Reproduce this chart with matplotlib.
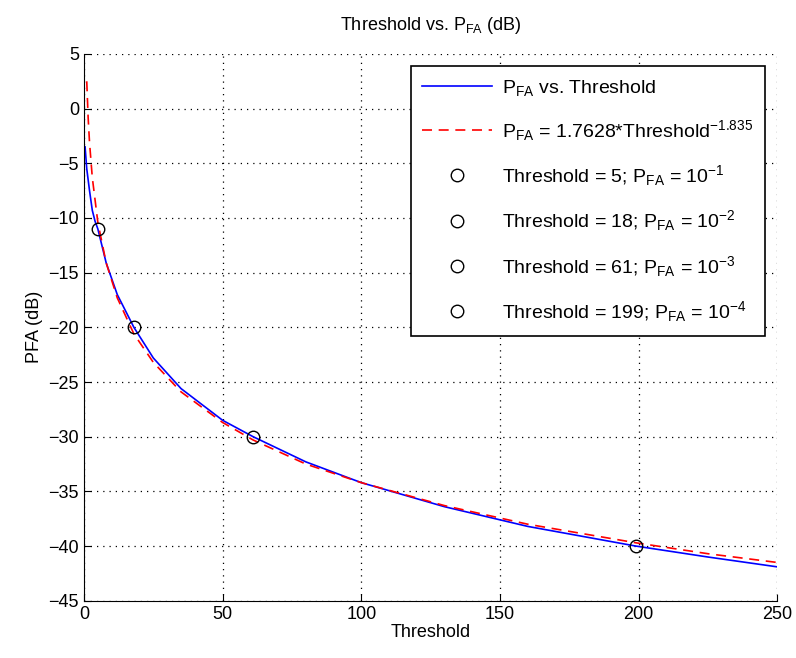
import matplotlib.pyplot as plt

plt.rcParams['font.family'] = ['Liberation Sans', 'DejaVu Sans']
plt.rcParams['mathtext.default'] = 'regular'

thr_meas = [0.4, 1, 2, 3, 4, 5, 8, 12, 18, 25, 35, 50, 61, 80, 100, 130, 160, 199, 225, 250]
pfa_meas = [-3.5, -5.5, -7.5, -9.3, -10.3, -11.0, -14.1, -17.0, -20.0, -22.8, -25.6,
            -28.5, -30.0, -32.3, -34.2, -36.4, -38.2, -40.0, -41.0, -41.9]

# Power-law fit curve
thr_fit = [1, 1.5, 2, 3, 5, 8, 12, 18, 25, 35, 50, 61, 80, 100, 130, 160, 199, 225, 250]
pfa_fit = [2.5, -0.8, -3.1, -6.3, -10.4, -14.1, -17.3, -20.6, -23.2, -25.9, -28.7,
           -30.3, -32.5, -34.2, -36.3, -38.0, -39.7, -40.7, -41.5]

# Marked points
mark_thr = [5, 18, 61, 199]
mark_pfa = [-11, -20, -30, -40]
mark_exp = [-1, -2, -3, -4]

fig = plt.figure(figsize=(7.96, 6.58), dpi=100)
ax = fig.add_axes([0.1055, 0.087, 0.871, 0.831])

ax.plot(thr_meas, pfa_meas, color='blue', lw=1.2, label='P$_{FA}$ vs. Threshold')
ax.plot(thr_fit, pfa_fit, color='red', lw=1.2, ls=(0, (6, 4)),
        label='P$_{FA}$ = 1.7628*Threshold$^{-1.835}$')
for t, p, e in zip(mark_thr, mark_pfa, mark_exp):
    ax.plot(t, p, 'o', mfc='none', mec='black', ms=9, mew=1.0,
            label='Threshold = %d; P$_{FA}$ = 10$^{%d}$' % (t, e))

ax.set_xlim(0, 250)
ax.set_ylim(-45, 5)
ax.set_xticks(range(0, 251, 50))
ax.set_yticks(range(-45, 6, 5))
ax.grid(True, color='black', ls=(0, (1, 4)), lw=0.9)
ax.spines['top'].set_visible(False)
ax.spines['right'].set_visible(False)
ax.tick_params(direction='in', labelsize=13, length=5)

ax.set_xlabel('Threshold', fontsize=13, labelpad=1)
ax.set_ylabel('PFA (dB)', fontsize=13, labelpad=4)
ax.set_title('Threshold vs. P$_{FA}$ (dB)', fontsize=13, pad=17)

leg = ax.legend(loc='upper right', fontsize=14, handlelength=3.6, labelspacing=1.05,
                fancybox=False, framealpha=1, edgecolor='black', borderpad=0.6,
                handletextpad=0.5, bbox_to_anchor=(0.996, 0.996))
leg.get_frame().set_linewidth(1.2)

plt.savefig('out.png')
